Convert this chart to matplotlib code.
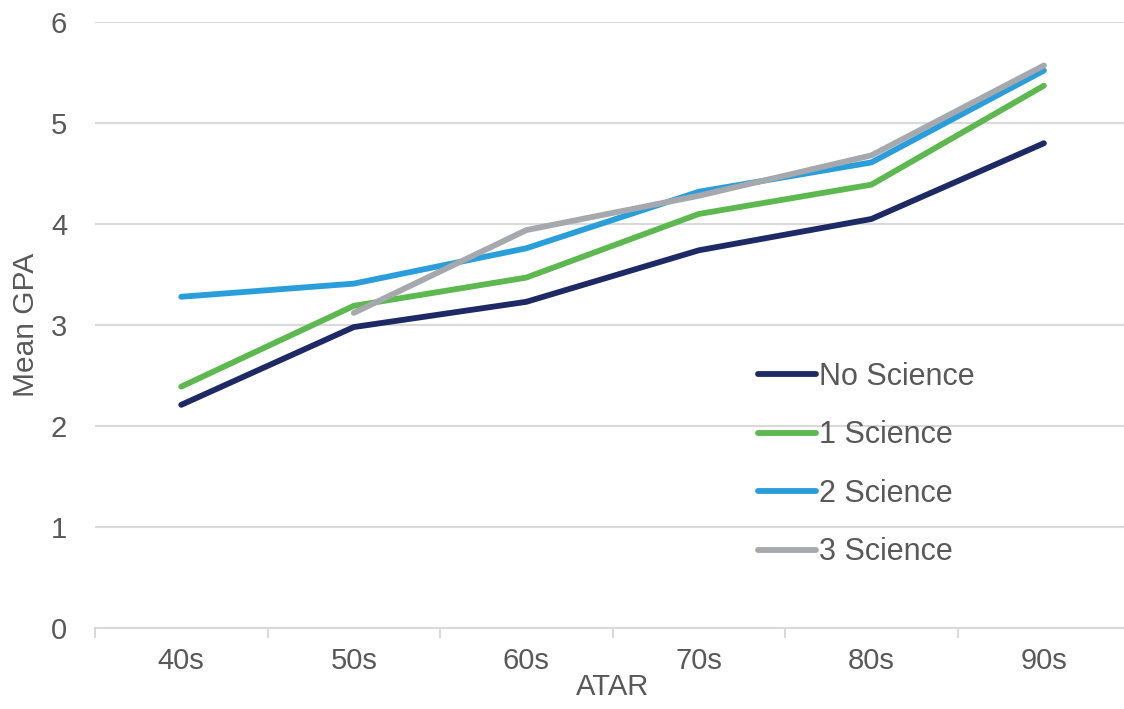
import numpy as np
import matplotlib.pyplot as plt
from matplotlib.ticker import FixedLocator
from matplotlib.patches import Rectangle

plt.rcParams['font.family'] = ['Liberation Sans', 'DejaVu Sans']

# mean GPA by ATAR band and number of science subjects
atar_bands = ['40s', '50s', '60s', '70s', '80s', '90s']
no_science = [2.21, 2.98, 3.23, 3.74, 4.05, 4.80]
one_science = [2.39, 3.19, 3.47, 4.10, 4.39, 5.37]
two_science = [3.28, 3.41, 3.76, 4.32, 4.61, 5.52]
three_science = [np.nan, 3.12, 3.94, 4.28, 4.68, 5.57]

series = [
    ('No Science', no_science, '#1d2a66'),
    ('1 Science', one_science, '#5cb84f'),
    ('2 Science', two_science, '#2a9edb'),
    ('3 Science', three_science, '#a5a8ac'),
]

text_col = '#595959'
grid_col = '#d9d9d9'

fig = plt.figure(figsize=(11.24, 7.09), dpi=100)
ax = fig.add_axes([0.0845, 0.1142, 0.921, 0.8547])

x = np.arange(len(atar_bands))
for name, vals, col in series:
    ax.plot(x, vals, color=col, lw=4.2, label=name, solid_capstyle='round',
            solid_joinstyle='round', zorder=3)

ax.set_xlim(-0.5, len(atar_bands) - 0.5)
ax.set_ylim(0, 6)
ax.set_yticks(range(0, 7))
ax.set_xticks(x)
ax.set_xticklabels(atar_bands)
ax.xaxis.set_minor_locator(FixedLocator(np.arange(-0.5, len(atar_bands), 1)))

ax.grid(axis='y', color=grid_col, lw=1.5, zorder=0)
for side in ['top', 'right', 'left']:
    ax.spines[side].set_visible(False)
ax.spines['bottom'].set_color(grid_col)
ax.spines['bottom'].set_linewidth(1.5)

ax.tick_params(axis='y', length=0, pad=20, labelsize=21, labelcolor=text_col)
ax.tick_params(axis='x', which='major', length=0, pad=14, labelsize=21,
               labelcolor=text_col)
ax.tick_params(axis='x', which='minor', length=7, width=1.5, color=grid_col)

ax.set_xlabel('ATAR', fontsize=21, color=text_col, labelpad=-2)
ax.set_ylabel('Mean GPA', fontsize=21.5, color=text_col)
ax.yaxis.set_label_coords(-0.053, 0.5)

# white panel behind the legend hides the gridlines there
ax.add_patch(Rectangle((0.585, 0.063), 0.42, 0.404, transform=ax.transAxes,
                       facecolor='white', edgecolor='none', zorder=1,
                       clip_on=False))

leg = ax.legend(loc='lower right', bbox_to_anchor=(0.8765, 0.055), fontsize=22,
                frameon=False, handlelength=1.9, handletextpad=0.1,
                labelspacing=0.93, borderpad=0.4)
for t in leg.get_texts():
    t.set_color(text_col)

fig.savefig('out.png', dpi=100)
